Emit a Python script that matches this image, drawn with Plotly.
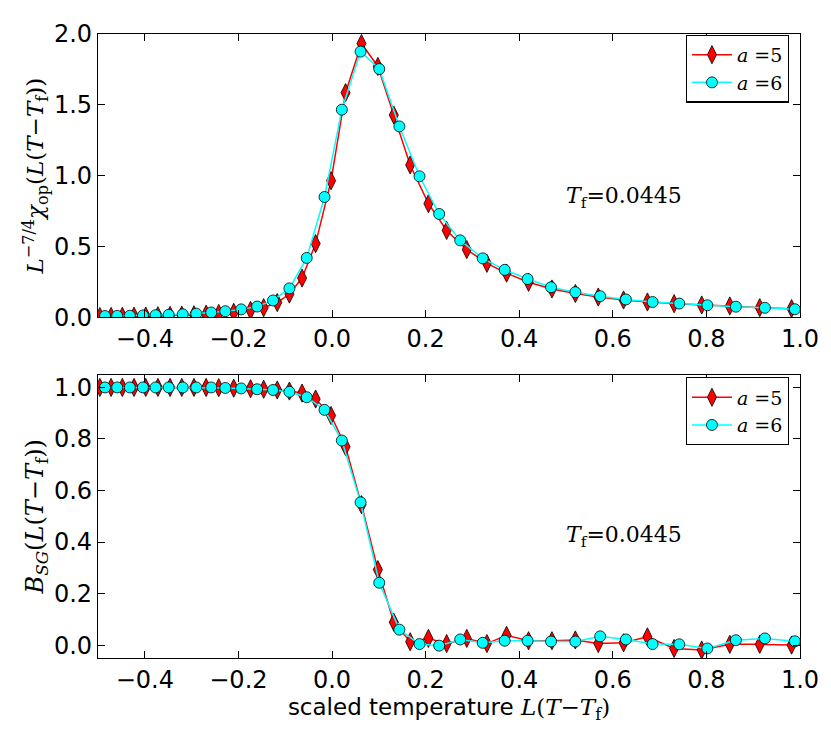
import plotly.graph_objects as go
from plotly.subplots import make_subplots

# a=5 (red diamonds)
x5 = [-0.496, -0.472, -0.448, -0.423, -0.398, -0.372, -0.346, -0.321, -0.295, -0.269,
      -0.242, -0.210, -0.174, -0.146, -0.117, -0.091, -0.064, -0.035, -0.002, 0.029,
      0.063, 0.098, 0.132, 0.167, 0.206, 0.245, 0.288, 0.331, 0.373, 0.420,
      0.470, 0.520, 0.569, 0.623, 0.674, 0.731, 0.790, 0.850, 0.914, 0.982]
chi5 = [0.006, 0.007, 0.008, 0.009, 0.010, 0.012, 0.014, 0.016, 0.019, 0.023,
        0.028, 0.036, 0.050, 0.069, 0.105, 0.165, 0.278, 0.521, 0.965, 1.586,
        1.933, 1.771, 1.428, 1.076, 0.803, 0.614, 0.479, 0.382, 0.313, 0.248,
        0.201, 0.169, 0.144, 0.123, 0.109, 0.097, 0.088, 0.081, 0.069, 0.062]
bsg5 = [1.0, 1.0, 1.0, 1.0, 1.0, 1.0, 1.0, 1.0, 1.0, 1.0,
        0.999, 0.997, 0.995, 0.993, 0.990, 0.986, 0.978, 0.955, 0.891, 0.770,
        0.545, 0.293, 0.089, 0.013, 0.026, 0.006, 0.026, 0.006, 0.038, 0.017,
        0.017, 0.020, 0.006, 0.009, 0.032, -0.013, -0.019, 0.003, 0.003, 0.0]

# a=6 (cyan circles)
x6 = [-0.485, -0.459, -0.432, -0.404, -0.377, -0.349, -0.319, -0.290, -0.258,
      -0.228, -0.194, -0.160, -0.126, -0.091, -0.054, -0.016, 0.021, 0.061, 0.101,
      0.144, 0.187, 0.229, 0.274, 0.322, 0.369, 0.418, 0.468, 0.520, 0.573,
      0.628, 0.685, 0.742, 0.802, 0.863, 0.925, 0.989]
chi6 = [0.010, 0.011, 0.012, 0.014, 0.016, 0.019, 0.022, 0.027, 0.035,
        0.044, 0.057, 0.077, 0.120, 0.205, 0.420, 0.850, 1.466, 1.876, 1.753,
        1.348, 0.996, 0.730, 0.544, 0.417, 0.336, 0.271, 0.213, 0.178, 0.150,
        0.127, 0.109, 0.098, 0.086, 0.076, 0.068, 0.058]
bsg6 = [1.0, 1.0, 1.0, 1.0, 1.0, 1.0, 1.0, 1.0, 1.0,
        0.998, 0.996, 0.993, 0.990, 0.983, 0.962, 0.913, 0.794, 0.554, 0.242,
        0.060, 0.004, -0.002, 0.022, 0.009, 0.017, 0.017, 0.014, 0.014, 0.034,
        0.022, 0.004, 0.003, -0.013, 0.019, 0.026, 0.015]

xticks = [-0.4, -0.2, 0.0, 0.2, 0.4, 0.6, 0.8, 1.0]
tf_label = "<i>T</i><sub>f</sub>=0.0445"

SERIF = "DejaVu Serif"
SANS = "DejaVu Sans"

fig = make_subplots(rows=2, cols=1, vertical_spacing=0.0915)

for row, y5, y6, leg in [(1, chi5, chi6, "legend"), (2, bsg5, bsg6, "legend2")]:
    fig.add_trace(go.Scatter(
        x=x5, y=y5, mode="lines+markers", name="<i>a</i> =5",
        line=dict(color="#ff0000", width=1.5),
        marker=dict(symbol="diamond-tall", size=13, color="#ff0000",
                    line=dict(color="black", width=0.8)),
        legend=leg), row=row, col=1)
    fig.add_trace(go.Scatter(
        x=x6, y=y6, mode="lines+markers", name="<i>a</i> =6",
        line=dict(color="#00ffff", width=1.5),
        marker=dict(symbol="circle", size=11, color="#00ffff",
                    line=dict(color="black", width=0.8)),
        legend=leg), row=row, col=1)

axis_style = dict(showline=True, linecolor="black", linewidth=1.2, mirror="ticks",
                  ticks="inside", ticklen=7, tickcolor="black", showgrid=False,
                  zeroline=False, tickfont=dict(family=SANS, size=24, color="black"))

fig.update_xaxes(range=[-0.5, 1.0], tickvals=xticks,
                 ticktext=[f"{v:.1f}".replace("-", "\u2212") for v in xticks], **axis_style)
fig.update_xaxes(title=dict(
    text="scaled temperature <span style='font-family:DejaVu Serif'><i>L</i>(<i>T</i>\u2212<i>T</i><sub>f</sub>)</span>",
    font=dict(family=SANS, size=23, color="black"), standoff=2), row=2, col=1)

fig.update_yaxes(range=[0, 2.0], tickvals=[0.0, 0.5, 1.0, 1.5, 2.0],
                 ticktext=["0.0", "0.5", "1.0", "1.5", "2.0"], row=1, col=1, **axis_style)
fig.update_yaxes(range=[-0.05, 1.05], tickvals=[0.0, 0.2, 0.4, 0.6, 0.8, 1.0],
                 ticktext=["0.0", "0.2", "0.4", "0.6", "0.8", "1.0"], row=2, col=1, **axis_style)
fig.update_yaxes(title=dict(
    text="<i>L</i><sup>\u22127/4</sup><i>\u03c7</i><sub>op</sub>(<i>L</i>(<i>T</i>\u2212<i>T</i><sub>f</sub>))",
    font=dict(family=SERIF, size=23, color="black"), standoff=3), row=1, col=1)
fig.update_yaxes(title=dict(
    text="<i>B</i><sub><i>SG</i></sub>(<i>L</i>(<i>T</i>\u2212<i>T</i><sub>f</sub>))",
    font=dict(family=SERIF, size=24, color="black"), standoff=3), row=2, col=1)

fig.add_annotation(x=0.623, y=0.845, xref="x", yref="y", text=tf_label, showarrow=False,
                   font=dict(family=SERIF, size=22, color="black"))
fig.add_annotation(x=0.623, y=0.42, xref="x2", yref="y2", text=tf_label, showarrow=False,
                   font=dict(family=SERIF, size=22, color="black"))

legend_style = dict(xanchor="right", yanchor="top", x=0.984, bgcolor="white",
                    bordercolor="black", borderwidth=1.2,
                    font=dict(family=SERIF, size=19, color="black"),
                    tracegroupgap=0, itemwidth=40)
# the page puts the figure 8px in from the top left corner
fig.update_layout(
    width=823, height=729,
    margin=dict(l=90, r=29, t=15, b=79),
    paper_bgcolor="white", plot_bgcolor="white",
    legend=dict(y=0.999, **legend_style),
    legend2=dict(y=0.45, **legend_style),
)

fig.write_html("out.html")
